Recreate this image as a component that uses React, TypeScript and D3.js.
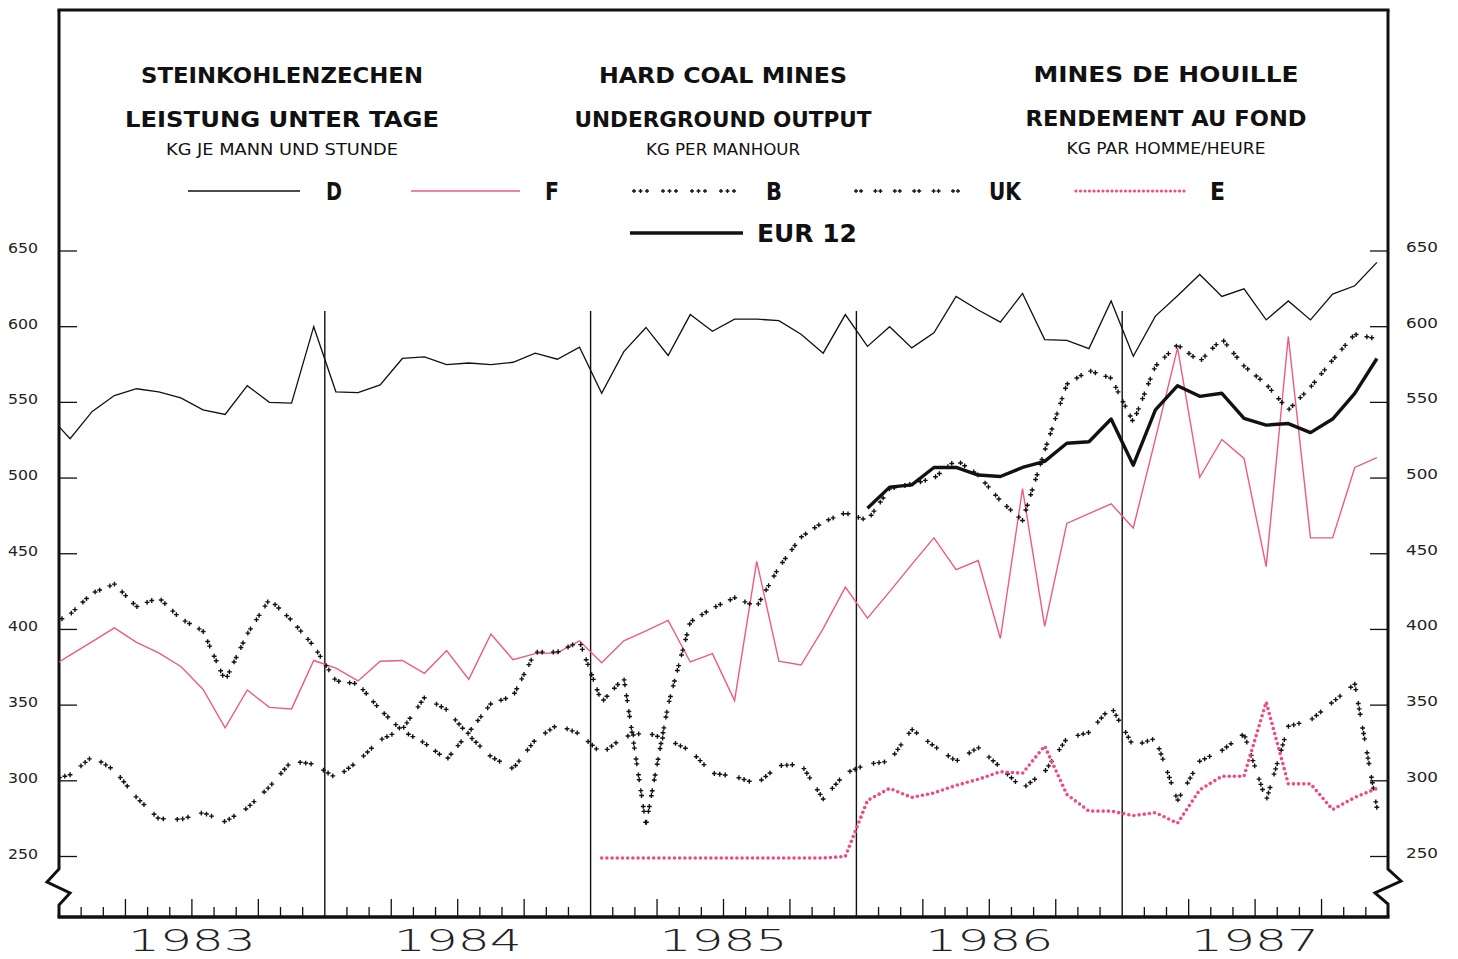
import React from "react";
import * as d3 from "d3";

// ---------- DATA (index 0 = Dec 1982 lead-in, 1..60 = Jan 1983 .. Dec 1987) ----------
const years = ["1983", "1984", "1985", "1986", "1987"];
const yTicks = [250, 300, 350, 400, 450, 500, 550, 600, 650];

const dValues: (number | null)[] = [
  542,
  526, 544, 554.5, 559, 557, 553, 545, 542, 561, 550, 549.5, 600,
  557, 556.5, 561.5, 579, 580, 575, 576, 575, 576.5, 582.5, 578.5, 586.5,
  556, 583.5, 599.5, 581, 608, 597, 605, 605, 604, 595, 582.5, 608,
  587, 600, 586, 596, 620, 611, 603, 622, 591.5, 591, 585.5, 617,
  580.5, 607, 620.5, 634.5, 620, 625, 604.5, 617, 604.5, 621.5, 627, 642.5,
];
const fValues: (number | null)[] = [
  374,
  383, 392, 401, 391.5, 384.5, 375.5, 360.5, 335, 360, 348.5, 347.5, 379.5,
  374.5, 366, 379, 379.5, 371, 386, 367, 397, 380, 384, 384.5, 392.5,
  378, 392.5, 399, 406, 378.5, 384, 353, 445, 379, 376.5, 400.5, 428,
  407.5, 425, 443, 460.5, 439.5, 445.5, 394, 493, 402, 470, 476.5, 483,
  467, 526, 586, 500.5, 525.5, 513, 441.5, 593.5, 460.5, 460.5, 507, 513.5,
];
const bValues: (number | null)[] = [
  300,
  304, 316, 307, 289, 275, 274.5, 279, 273, 282, 296, 313, 311,
  302, 313, 327, 334, 355, 347, 330, 316, 308, 327, 337, 331,
  318, 329, 332, 327, 320, 305, 303, 298, 310, 311, 288, 305,
  311, 313, 334, 323, 313, 322, 309, 295, 306, 328, 332, 349,
  323, 328, 287, 313, 320, 331, 287, 336, 340, 352, 364, 282,
];
const ukValues: (number | null)[] = [
  402,
  410, 424, 430, 415, 421, 407, 399, 366, 397, 420, 406, 389,
  366, 364, 347, 333, 325, 314, 332, 351, 356, 385, 385, 392,
  352, 368, 271, 350, 405, 414, 421, 415, 441, 461, 471, 477,
  472, 493, 496, 500, 512, 502, 485, 472, 518, 562, 571, 566,
  537, 574, 588, 577, 592, 574, 562, 545, 560, 578, 595, 592,
];
const eValues: (number | null)[] = [
  null,
  null, null, null, null, null, null, null, null, null, null, null, null,
  null, null, null, null, null, null, null, null, null, null, null, null,
  249, 249, 249, 249, 249, 249, 249, 249, 249, 249, 249, 250,
  287, 295, 289, 292, 297, 301, 306, 305, 323, 291, 280, 280,
  277, 279, 272, 294, 303, 303, 352, 298, 298, 281, 289, 295,
];
const eurValues: (number | null)[] = [
  null,
  null, null, null, null, null, null, null, null, null, null, null, null,
  null, null, null, null, null, null, null, null, null, null, null, null,
  null, null, null, null, null, null, null, null, null, null, null, null,
  480, 494, 495.5, 507, 507, 502, 501, 507, 511, 523, 524, 539,
  508.5, 545, 561, 554, 556, 539.5, 535, 536, 530, 539, 556, 579,
];

const titleDe = ["STEINKOHLENZECHEN", "LEISTUNG UNTER TAGE", "KG JE MANN UND STUNDE"];
const titleEn = ["HARD COAL MINES", "UNDERGROUND OUTPUT", "KG PER MANHOUR"];
const titleFr = ["MINES DE HOUILLE", "RENDEMENT AU FOND", "KG PAR HOMME/HEURE"];

// ---------- LAYOUT ----------
const W = 1458;
const H = 959;
const X0 = 59;
const X1 = 1388;
const TOP = 10;
const BOTTOM = 917;
const PINK = "#ee5a80";
const EPINK = "#f04a86";
const FONT = "'DejaVu Sans', sans-serif";

const x = d3.scaleLinear().domain([0, 60]).range([X0, X1]);
const y = d3.scaleLinear().domain([250, 650]).range([856.5, 251]);
const px = (k: number) => x(k - 0.5);

function points(values: (number | null)[]): [number, number][] {
  const out: [number, number][] = [];
  values.forEach((v, k) => {
    if (v !== null) out.push([px(k), y(v)]);
  });
  return out;
}

function along(pts: [number, number][], period: number, offsets: number[], phase = 0): [number, number][] {
  const segs: { a: [number, number]; b: [number, number]; s: number; len: number }[] = [];
  let total = 0;
  for (let i = 1; i < pts.length; i++) {
    const a = pts[i - 1];
    const b = pts[i];
    const len = Math.hypot(b[0] - a[0], b[1] - a[1]);
    segs.push({ a, b, s: total, len });
    total += len;
  }
  const out: [number, number][] = [];
  let si = 0;
  for (let base = phase; base <= total; base += period) {
    for (const o of offsets) {
      const s = base + o;
      if (s > total) break;
      while (si < segs.length - 1 && segs[si].s + segs[si].len < s) si++;
      const sg = segs[si];
      const t = sg.len === 0 ? 0 : (s - sg.s) / sg.len;
      out.push([sg.a[0] + (sg.b[0] - sg.a[0]) * t, sg.a[1] + (sg.b[1] - sg.a[1]) * t]);
    }
  }
  return out;
}

function plusPath(p: [number, number][], r = 2.4): string {
  return p.map(([a, b]) => `M${a - r},${b}h${2 * r}M${a},${b - r}v${2 * r}`).join("");
}

const lineGen = d3.line<[number, number]>().x((d) => d[0]).y((d) => d[1]);

export default function App() {
  const dPts = points(dValues);
  const fPts = points(fValues);
  const bPts = points(bValues);
  const ukPts = points(ukValues);
  const ePts = points(eValues);
  const eurPts = points(eurValues);

  const bMarks = along(bPts, 25, [0, 5.5, 11], 12);
  const ukMarks = along(ukPts, 16, [0, 5], 11);
  const eDots = along(ePts, 5.2, [0]);

  const monthTicks = d3.range(1, 60).filter((m) => m % 12 !== 0);
  const yearLines = [12, 24, 36, 48];

  // legend marks
  const legBMarks: [number, number][] = [];
  for (let g = 0; g < 4; g++) for (let k = 0; k < 3; k++) legBMarks.push([634 + g * 29 + k * 6.5, 191]);
  const legUKMarks: [number, number][] = [];
  for (let g = 0; g < 6; g++) for (let k = 0; k < 2; k++) legUKMarks.push([856 + g * 19.4 + k * 5, 191]);
  const legEDots = d3.range(0, 25).map((i) => 1076 + i * 4.5);

  const titleCol = (
    lines: string[],
    cx: number,
    widths: number[],
    baselines: number[]
  ) =>
    lines.map((t, i) => (
      <text
        key={t}
        x={cx - widths[i] / 2}
        y={baselines[i]}
        fontFamily={FONT}
        fontSize={i < 2 ? 21 : 16}
        fontWeight={i < 2 ? 700 : 400}
        textLength={widths[i]}
        lengthAdjust="spacingAndGlyphs"
        fill="#111"
      >
        {t}
      </text>
    ));

  return (
    <svg
      width={W}
      height={H}
      viewBox={`0 0 ${W} ${H}`}
      style={{ position: "absolute", left: 0, top: 0, background: "#fff" }}
    >
      <defs>
        <clipPath id="plot">
          <rect x={X0} y={TOP} width={X1 - X0} height={BOTTOM - TOP} />
        </clipPath>
      </defs>
      <rect x={0} y={0} width={W} height={H} fill="#fff" />

      {/* titles */}
      {titleCol(titleDe, 282, [282, 314, 232], [83, 127, 155])}
      {titleCol(titleEn, 723, [248, 297, 154], [83, 127, 155])}
      {titleCol(titleFr, 1166, [265, 281, 199], [82, 126, 154])}

      {/* legend */}
      <g fontFamily={FONT} fontSize={24} fontWeight={700} fill="#111">
        <line x1={188} x2={300} y1={191} y2={191} stroke="#111" strokeWidth={1.3} />
        <text x={326} y={200} textLength={16} lengthAdjust="spacingAndGlyphs">D</text>
        <line x1={411} x2={520} y1={191} y2={191} stroke={PINK} strokeWidth={1.4} />
        <text x={545} y={200} textLength={14} lengthAdjust="spacingAndGlyphs">F</text>
        <path d={plusPath(legBMarks, 2)} stroke="#111" strokeWidth={1.3} fill="none" />
        <text x={766} y={200} textLength={16} lengthAdjust="spacingAndGlyphs">B</text>
        <path d={plusPath(legUKMarks, 2)} stroke="#111" strokeWidth={1.3} fill="none" />
        <text x={989} y={200} textLength={32} lengthAdjust="spacingAndGlyphs">UK</text>
        {legEDots.map((cx) => (
          <circle key={cx} cx={cx} cy={191} r={1.6} fill={EPINK} />
        ))}
        <text x={1210} y={200} textLength={15} lengthAdjust="spacingAndGlyphs">E</text>
        <line x1={630} x2={743} y1={233} y2={233} stroke="#111" strokeWidth={3.5} />
        <text x={757} y={242} textLength={100} lengthAdjust="spacingAndGlyphs">EUR 12</text>
      </g>

      {/* y axis labels and ticks */}
      <g fontFamily={FONT} fontSize={14.5} fill="#222">
        {yTicks.map((v) => (
          <g key={v}>
            <line x1={X0} x2={X0 + 18} y1={y(v)} y2={y(v)} stroke="#111" strokeWidth={1.3} />
            <line x1={X1 - 18} x2={X1} y1={y(v)} y2={y(v)} stroke="#111" strokeWidth={1.3} />
            <text x={8} y={y(v) + 2} textLength={30} lengthAdjust="spacingAndGlyphs">{v}</text>
            <text x={1406} y={y(v) + 1} textLength={32} lengthAdjust="spacingAndGlyphs">{v}</text>
          </g>
        ))}
      </g>

      {/* frame */}
      <g stroke="#111" fill="none" strokeLinejoin="miter">
        <line x1={X0 - 1.5} x2={X1 + 1.5} y1={TOP} y2={TOP} strokeWidth={3} />
        <path
          d={`M${X0},${TOP} V869 L${X0 - 12},882 L${X0 + 11},893 L${X0},905 V${BOTTOM}`}
          strokeWidth={3}
        />
        <path
          d={`M${X1},${TOP} V869 L${X1 + 13},881 L${X1 - 13},893 L${X1},904 V${BOTTOM}`}
          strokeWidth={3}
        />
        <line x1={X0 - 1.5} x2={X1 + 1.5} y1={BOTTOM} y2={BOTTOM} strokeWidth={3.5} />
        {monthTicks.map((m) => (
          <line
            key={m}
            x1={x(m)}
            x2={x(m)}
            y1={BOTTOM}
            y2={BOTTOM - (m % 3 === 0 ? 18 : 10)}
            strokeWidth={1.3}
          />
        ))}
        {yearLines.map((m) => (
          <line key={m} x1={x(m)} x2={x(m)} y1={311} y2={BOTTOM} strokeWidth={1.4} />
        ))}
      </g>

      {/* year labels */}
      <g fontFamily={FONT} fontSize={30} fontWeight={200} fill="#222">
        {years.map((yr, i) => (
          <text
            key={yr}
            x={x(i * 12 + 6) - 64}
            y={951}
            textLength={128}
            lengthAdjust="spacingAndGlyphs"
          >
            {yr}
          </text>
        ))}
      </g>

      {/* series */}
      <g clipPath="url(#plot)" fill="none">
        <path d={lineGen(dPts) || ""} stroke="#111" strokeWidth={1.3} />
        <path d={lineGen(fPts) || ""} stroke={PINK} strokeWidth={1.4} />
        <path d={plusPath(bMarks)} stroke="#111" strokeWidth={1.4} />
        <path d={plusPath(ukMarks)} stroke="#111" strokeWidth={1.4} />
        {eDots.map(([cx, cy], i) => (
          <circle key={i} cx={cx} cy={cy} r={1.8} fill={EPINK} />
        ))}
        <path d={lineGen(eurPts) || ""} stroke="#111" strokeWidth={3.4} strokeLinejoin="round" />
      </g>
    </svg>
  );
}
